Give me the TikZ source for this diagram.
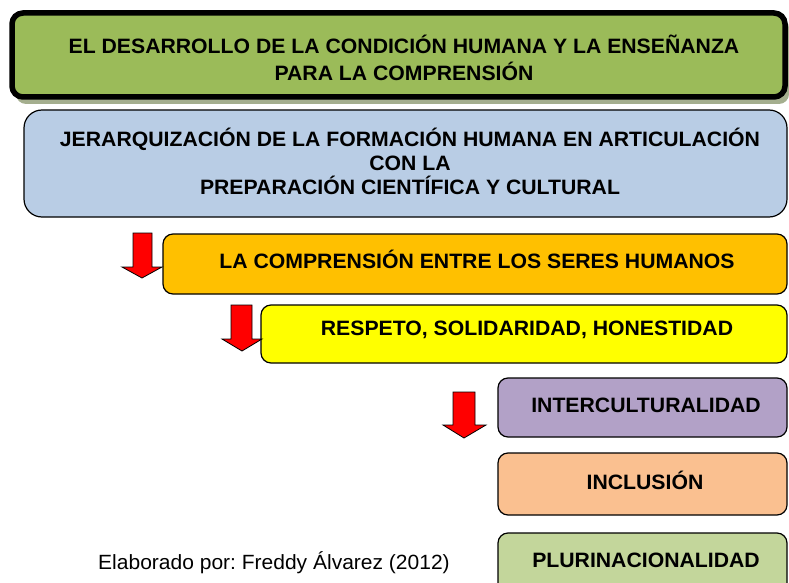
\documentclass[tikz,border=0pt]{standalone}
\usepackage{fontspec}
\setmainfont{Liberation Sans}[FakeStretch=1.02]
\frenchspacing
\definecolor{topgreen}{HTML}{9BBB59}
\definecolor{shadowgreen}{HTML}{A4AE8E}
\definecolor{boxblue}{HTML}{B9CDE5}
\definecolor{boxorange}{HTML}{FFC000}
\definecolor{boxyellow}{HTML}{FFFF00}
\definecolor{boxpurple}{HTML}{B2A1C7}
\definecolor{boxpeach}{HTML}{FAC090}
\definecolor{boxlgreen}{HTML}{C3D69B}
\definecolor{arrowred}{HTML}{FF0000}
\tikzset{
  panel/.style={draw=black, line width=1.2pt, rounded corners=10pt},
  labeltext/.style={font=\fontsize{20.8}{24}\selectfont\bfseries, align=center, inner sep=0pt},
  downarrow/.style={fill=arrowred, draw=black, line width=0.8pt, line join=miter},
}
\begin{document}
\begin{tikzpicture}[x=1pt,y=-1pt]
\clip (0,0) rectangle (789,583);
\fill[white] (0,0) rectangle (789,583);
% top box with shadow
\fill[shadowgreen, rounded corners=10pt] (16,18) rectangle (789,104);
\draw[fill=topgreen, line width=5.5pt, rounded corners=11pt] (12,13) rectangle (785,97);
\node[labeltext, font=\fontsize{20.8}{27}\selectfont\bfseries] (title) at (404,58) {EL DESARROLLO DE LA CONDICIÓN HUMANA Y LA ENSEÑANZA\\PARA LA COMPRENSIÓN};
% blue box
\draw[panel, fill=boxblue, rounded corners=18pt] (24,110) rectangle (787,217);
\node[labeltext] (jer) at (410,161) {JERARQUIZACIÓN DE LA FORMACIÓN HUMANA EN ARTICULACIÓN\\CON LA\\PREPARACIÓN CIENTÍFICA Y CULTURAL};
% orange
\draw[panel, fill=boxorange] (163,234) rectangle (787,294);
\node[labeltext] (comp) at (477,259) {LA COMPRENSIÓN ENTRE LOS SERES HUMANOS};
% yellow
\draw[panel, fill=boxyellow] (261,305) rectangle (787,363);
\node[labeltext] (resp) at (527,330) {RESPETO, SOLIDARIDAD, HONESTIDAD};
% purple
\draw[panel, fill=boxpurple] (498,378) rectangle (787,437);
\node[labeltext] (inter) at (646,405) {INTERCULTURALIDAD};
% peach
\draw[panel, fill=boxpeach] (498,453) rectangle (787,515);
\node[labeltext] (incl) at (645,480) {INCLUSIÓN};
% light green
\draw[panel, fill=boxlgreen] (498,533) rectangle (787,610);
\node[labeltext] (pluri) at (646,560) {PLURINACIONALIDAD};
% footer
\node[font=\fontsize{20.6}{24}\selectfont, inner sep=0pt] (credit) at (274,563) {Elaborado por: Freddy Álvarez (2012)};
% red arrows
\draw[downarrow] (133,233) -- (152,233) -- (152,267) -- (162,267) -- (142,278) -- (122,267) -- (133,267) -- cycle;
\draw[downarrow] (231,305) -- (252,305) -- (252,339) -- (262,339) -- (242,351) -- (222,339) -- (231,339) -- cycle;
\draw[downarrow] (453,392) -- (475,392) -- (475,425) -- (486,425) -- (464,438) -- (443,425) -- (453,425) -- cycle;
\end{tikzpicture}
\end{document}
